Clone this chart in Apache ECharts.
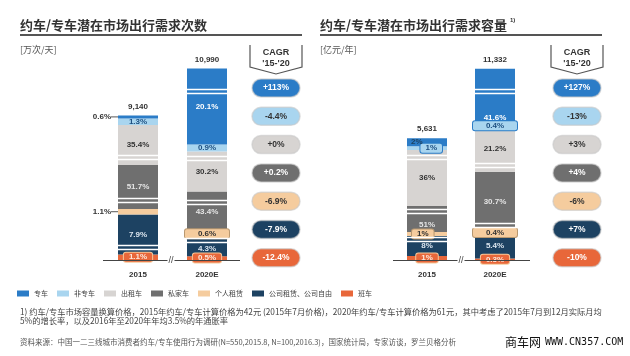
<!DOCTYPE html>
<html><head><meta charset="utf-8">
<script src="https://cdn.jsdelivr.net/npm/echarts@6/dist/echarts.min.js"></script>
<style>html,body{margin:0;padding:0;background:#fff}#c{width:630px;height:356px}</style>
</head><body><div id="c"></div>
<script>
// ---------- data ----------
const categories = ['2015', '2020E'];
const segNames = ['专车', '非专车', '出租车', '私家车', '个人租赁', '公司租赁、公司自由', '班车'];
const tripsTotals = [9140, 10990];
const tripsShare2015 = [0.6, 1.3, 35.4, 51.7, 1.1, 7.9, 1.1];
const tripsShare2020 = [20.1, 0.9, 30.2, 43.4, 0.6, 4.3, 0.5];
const revTotals = [5631, 11332];
const revShare2015 = [2, 1, 36, 51, 1, 8, 1];
const revShare2020 = [41.6, 0.4, 21.2, 30.7, 0.4, 5.4, 0.3];
const tripsCagr = ['+113%', '-4.4%', '+0%', '+0.2%', '-6.9%', '-7.9%', '-12.4%'];
const revCagr = ['+127%', '-13%', '+3%', '+4%', '-6%', '+7%', '-10%'];
const titles = ['约车/专车潜在市场出行需求次数', '约车/专车潜在市场出行需求容量'];
const units = ['[万次/天]', '[亿元/年]'];
const footnote1 = '1) 约车/专车市场容量换算价格，2015年约车/专车计算价格为42元 (2015年7月价格)，2020年约车/专车计算价格为61元，其中考虑了2015年7月到12月实际月均';
const footnote2 = '5%的增长率，以及2016年至2020年年均3.5%的年通胀率';
const sourceText = '资料来源：中国一二三线城市消费者约车/专车使用行为调研(N=550,2015.8, N=100,2016.3)，国家统计局，专家访谈，罗兰贝格分析';

// ---------- style / layout ----------
const colors = ['#2b7cc7', '#a9d5ef', '#d7d4d2', '#6f6f6f', '#f5cc9e', '#1d4262', '#e8673a'];
const textOn = ['#ffffff', '#1d4f80', '#333333', '#e4e4e4', '#333333', '#dce6ef', '#fde8dc'];
const FONT = '"Liberation Sans", Arial, "Noto Sans CJK SC", sans-serif';
const CJK = '"Noto Sans CJK SC", sans-serif';
const BASE = 260;
const GAPPX = 4;
// per bar: centre x, px per unit, broken segments {idx:[visual px, band position]}, label modes
const bars = [
  { shares: tripsShare2015, total: tripsTotals[0], cat: 0, cx: 138, k: 0.055,
    brk: { 5: [40, 0.18], 3: [44, 0.2], 2: [40, 0.18] },
    lab: ['lead', 'in', 'in', 'in', 'lead', 'in', 'box'] },
  { shares: tripsShare2020, total: tripsTotals[1], cat: 1, cx: 207, k: 0.07,
    brk: { 5: [20, 0.82], 3: [40, 0.72], 2: [40, 0.82], 0: [76, 0.7] },
    lab: ['in', 'in', 'in', 'in', 'boxW', 'inB', 'box'] },
  { shares: revShare2015, total: revTotals[0], cat: 0, cx: 427, k: 0.07,
    brk: { 5: [20, 0.85], 3: [26, 0.8], 2: [56, 0.88] },
    lab: ['inL', 'boxR', 'in', 'inB', 'boxL', 'in', 'box'] },
  { shares: revShare2020, total: revTotals[1], cat: 1, cx: 495, k: 0.041,
    brk: { 3: [60, 0.1], 2: [45, 0.15], 0: [56, 0.6] },
    lab: ['inB', 'boxW', 'in', 'in', 'boxW', 'in', 'box'] }
];
const order = [6, 5, 4, 3, 2, 1, 0]; // bottom -> top

function labelFor(mode, i, text) {
  const base = { show: true, formatter: text, fontSize: 8, fontWeight: 'bold', fontFamily: FONT, color: textOn[i] };
  if (mode === 'in') return Object.assign(base, { position: 'inside' });
  if (mode === 'inL') return Object.assign(base, { position: 'insideLeft', color: '#1d4262', distance: 4 });
  if (mode === 'inB') return Object.assign(base, { position: 'insideBottom', distance: 3 });
  if (mode === 'lead') return Object.assign(base, {
    position: 'left', distance: 0, formatter: '{t|' + text + '}{l|}',
    rich: { t: { fontSize: 8, fontWeight: 'bold', fontFamily: FONT, color: '#333' },
            l: { width: 7, height: 1, backgroundColor: '#555', verticalAlign: 'middle' } } });
  const boxBorder = { 4: '#b89870', 6: '#f5c89a', 1: '#2b7cc7' };
  const box = Object.assign(base, {
    position: 'inside', backgroundColor: colors[i], borderColor: boxBorder[i] || '#999',
    borderWidth: 1, borderRadius: 2, padding: [1, 5, 0, 5], color: i === 6 ? '#fde8dc' : (i === 1 ? '#1d4f80' : '#333')
  });
  if (mode === 'boxW') { box.width = 34; box.align = 'center'; }
  if (mode === 'boxR') box.position = 'insideRight';
  if (mode === 'boxL') box.position = 'insideLeft';
  return box;
}

const grids = [], xAxes = [], yAxes = [], series = [];
bars.forEach((b, bi) => {
  const vals = b.shares.map(s => s * b.total / 100);
  let cum = 0; const seg = {};
  order.forEach(i => { seg[i] = [cum, cum + vals[i]]; cum += vals[i]; });
  const breaks = []; let H = 0;
  order.forEach(i => {
    const v = vals[i], br = b.brk[i];
    if (!br) { H += v * b.k; return; }
    const T = br[0], f = br[1], gapU = GAPPX / b.k;
    const keep = T / b.k - gapU;
    const Lb = v - keep;
    const below = Math.max(0, (f * T - GAPPX / 2) / b.k);
    const start = seg[i][0] + below;
    breaks.push({ start: start, end: start + Lb, gap: gapU });
    H += T;
  });
  grids.push({ left: b.cx - 24, width: 48, top: BASE - H, height: H, outerBoundsMode: 'none', containLabel: false });
  xAxes.push({ type: 'category', gridIndex: bi, data: [categories[b.cat]],
    axisLine: { show: false }, axisTick: { show: false },
    axisLabel: { fontSize: 8, fontWeight: 'bold', color: '#333', fontFamily: FONT, margin: 11 } });
  yAxes.push({ type: 'value', gridIndex: bi, min: 0, max: cum,
    axisLine: { show: false }, axisTick: { show: false }, axisLabel: { show: false }, splitLine: { show: false },
    breaks: breaks,
    breakArea: { show: true, expandOnClick: false, zigzagAmplitude: 5, zigzagMinSpan: 48, zigzagMaxSpan: 48, zigzagZ: 100,
      itemStyle: { color: 'rgba(255,255,255,0)', borderColor: '#ffffff', borderWidth: 1.5, borderType: 'solid', opacity: 1 } },
    breakLabelLayout: { moveOverlap: false } });
  order.forEach(i => {
    series.push({ type: 'bar', name: segNames[i], stack: 's' + bi, xAxisIndex: bi, yAxisIndex: bi,
      barWidth: 40, data: [vals[i]], itemStyle: { color: colors[i] },
      label: labelFor(b.lab[i], i, b.shares[i] + '%'), emphasis: { disabled: true } });
  });
  series.push({ type: 'bar', name: 'total', stack: 's' + bi, xAxisIndex: bi, yAxisIndex: bi, barWidth: 40,
    data: [0], itemStyle: { color: 'transparent' }, silent: true,
    label: { show: true, position: 'top', distance: 5, formatter: b.total.toLocaleString('en-US'),
      fontSize: 8, fontWeight: 'bold', color: '#333', fontFamily: FONT } });
});

// ---------- decorations ----------
const G = [];
function txt(x, y, text, o) {
  G.push({ type: 'text', z: 50, style: Object.assign({ text: text, x: x, y: y, fill: '#333', fontSize: 9,
    fontFamily: FONT, align: 'left', verticalAlign: 'middle' }, o || {}) });
}
[[20, 302], [320, 602]].forEach((r, ci) => {
  txt(r[0], 25, titles[ci], { fontSize: 13, fontWeight: 'bold', fontFamily: CJK, fill: '#333' });
  G.push({ type: 'line', shape: { x1: r[0], y1: 35, x2: r[1], y2: 35 }, style: { stroke: '#555', lineWidth: 2 } });
  txt(r[0], 50, units[ci], { fontSize: 9, fontFamily: CJK, fill: '#555' });
});
txt(510, 20, '1)', { fontSize: 6, fontWeight: 'bold' });

// CAGR brackets + pills
[[276, tripsCagr], [577, revCagr]].forEach(p => {
  const cx = p[0];
  G.push({ type: 'polyline', shape: { points: [[cx - 26, 45], [cx - 26, 67], [cx, 74], [cx + 26, 67], [cx + 26, 45]] },
    style: { stroke: '#555', lineWidth: 1.2, fill: null } });
  txt(cx, 53, 'CAGR', { align: 'center', fontWeight: 'bold', fontSize: 9 });
  txt(cx, 64, "'15-'20", { align: 'center', fontWeight: 'bold', fontSize: 9 });
  p[1].forEach((t, i) => {
    const cy = 88 + i * 28.3;
    G.push({ type: 'rect', shape: { x: cx - 24, y: cy - 9, width: 48, height: 18, r: 9 },
      style: { fill: colors[i], stroke: 'rgba(200,200,200,0.6)', lineWidth: 1.5 } });
    txt(cx, cy, t, { align: 'center', fontWeight: 'bold', fontSize: 8.5, fill: [1, 2, 4].includes(i) ? '#333' : '#fff' });
  });
});

// baselines with break marks
[[103, 240, 171], [393, 530, 461]].forEach(b => {
  G.push({ type: 'line', z: 40, shape: { x1: b[0], y1: BASE + 0.5, x2: b[1], y2: BASE + 0.5 }, style: { stroke: '#444', lineWidth: 1 } });
  txt(b[2], BASE + 0.5, '//', { align: 'center', fontSize: 9, fill: '#444', backgroundColor: '#fff', padding: [0, 1] });
});

// footnotes
txt(20, 312, footnote1, { fontSize: 8.25, fontFamily: CJK, fill: '#444' });
txt(20, 321, footnote2, { fontSize: 8.25, fontFamily: CJK, fill: '#444' });
txt(20, 342, sourceText, { fontSize: 7.5, fontFamily: CJK, fill: '#555' });
txt(505, 342, '商车网', { fontSize: 12, fontFamily: CJK, fill: '#111' });
txt(545, 342, 'WWW.CN357.COM', { fontSize: 10, fontFamily: '"DejaVu Sans Mono", monospace', fill: '#111' });

const chart = echarts.init(document.getElementById('c'), null, { renderer: 'canvas' });
chart.setOption({
  animation: false,
  backgroundColor: '#fff',
  grid: grids, xAxis: xAxes, yAxis: yAxes, series: series,
  legend: { data: segNames, left: 17, top: 290, itemWidth: 12, itemHeight: 6, itemGap: 9, padding: 0,
    icon: 'rect', selectedMode: false, textStyle: { fontSize: 7, color: '#444', fontFamily: CJK } },
  graphic: { elements: G }
});
</script></body></html>
